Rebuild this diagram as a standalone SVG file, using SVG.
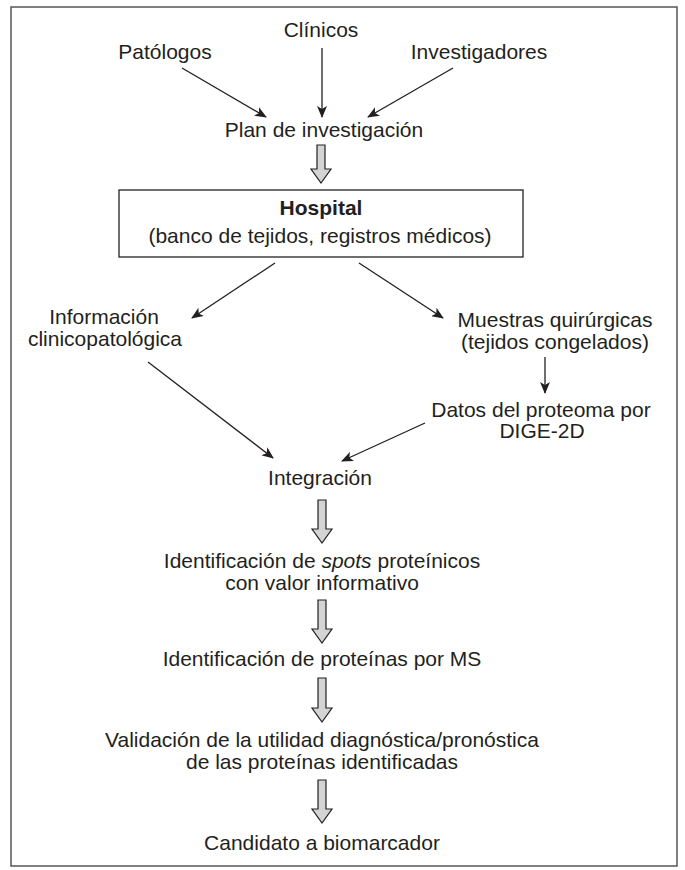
<svg xmlns="http://www.w3.org/2000/svg" width="685" height="870" viewBox="0 0 685 870">
<style>
  text { font-family: "Liberation Sans", Arial, Helvetica, sans-serif; font-size: 21px; fill: #231f20; }
  .c { text-anchor: middle; }
  .b { font-weight: bold; }
  .ln { stroke: #231f20; stroke-width: 1.3; fill: none; }
  .big { fill: #d4d4d4; stroke: #231f20; stroke-width: 1.2; stroke-linejoin: miter; }
</style>
<defs>
  <marker id="ah" viewBox="0 0 12 10" refX="11" refY="5" markerWidth="12" markerHeight="10" markerUnits="userSpaceOnUse" orient="auto">
    <path d="M0,0 L12,5 L0,10 L3,5 z" fill="#231f20"/>
  </marker>
</defs>
<rect x="11" y="7" width="666" height="859" fill="#ffffff" stroke="#555555" stroke-width="1.5"/>

<g id="n-clinicos"><text class="c" x="321" y="37">Clínicos</text></g>
<g id="n-patologos"><text class="c" x="165" y="59">Patólogos</text></g>
<g id="n-investigadores"><text class="c" x="479" y="59">Investigadores</text></g>
<g id="n-plan"><text class="c" x="324" y="137">Plan de investigación</text></g>
<g id="n-hospital">
  <rect x="119" y="190" width="404" height="67" fill="#ffffff" stroke="#231f20" stroke-width="1.3"/>
  <text class="c b" x="321" y="215">Hospital</text>
  <text class="c" x="320" y="243">(banco de tejidos, registros médicos)</text>
</g>
<g id="n-informacion">
  <text class="c" x="104" y="324">Información</text>
  <text class="c" x="105" y="346">clinicopatológica</text>
</g>
<g id="n-muestras">
  <text class="c" x="555" y="327">Muestras quirúrgicas</text>
  <text class="c" x="555" y="349">(tejidos congelados)</text>
</g>
<g id="n-datos">
  <text class="c" x="541" y="417">Datos del proteoma por</text>
  <text class="c" x="542" y="438">DIGE-2D</text>
</g>
<g id="n-integracion"><text class="c" x="320" y="485">Integración</text></g>
<g id="n-spots">
  <text class="c" x="322" y="568">Identificación de <tspan font-style="italic">spots</tspan> proteínicos</text>
  <text class="c" x="322" y="590">con valor informativo</text>
</g>
<g id="n-ms"><text class="c" x="322" y="666">Identificación de proteínas por MS</text></g>
<g id="n-validacion">
  <text class="c" x="322" y="747">Validación de la utilidad diagnóstica/pronóstica</text>
  <text class="c" x="322" y="769">de las proteínas identificadas</text>
</g>
<g id="n-candidato"><text class="c" x="322" y="850">Candidato a biomarcador</text></g>

<g id="connectors">
  <line class="ln" x1="182" y1="68" x2="266" y2="117" marker-end="url(#ah)"/>
  <line class="ln" x1="322" y1="48" x2="322" y2="117" marker-end="url(#ah)"/>
  <line class="ln" x1="453" y1="68" x2="368" y2="117" marker-end="url(#ah)"/>
  <line class="ln" x1="275" y1="263" x2="192" y2="318" marker-end="url(#ah)"/>
  <line class="ln" x1="359" y1="263" x2="443" y2="318" marker-end="url(#ah)"/>
  <line class="ln" x1="545" y1="357" x2="545" y2="393" marker-end="url(#ah)"/>
  <line class="ln" x1="148" y1="362" x2="273" y2="458" marker-end="url(#ah)"/>
  <line class="ln" x1="425" y1="423" x2="342" y2="461" marker-end="url(#ah)"/>
  <path class="big" d="M317,145 H325 V169 H331 L321,183 L311,169 H317 Z"/>
  <path class="big" d="M318,500 H326 V529 H332 L322,543 L312,529 H318 Z"/>
  <path class="big" d="M318,600 H326 V629 H332 L322,643 L312,629 H318 Z"/>
  <path class="big" d="M318,678 H326 V708 H332 L322,722 L312,708 H318 Z"/>
  <path class="big" d="M318,780 H326 V809 H332 L322,823 L312,809 H318 Z"/>
</g>
</svg>
